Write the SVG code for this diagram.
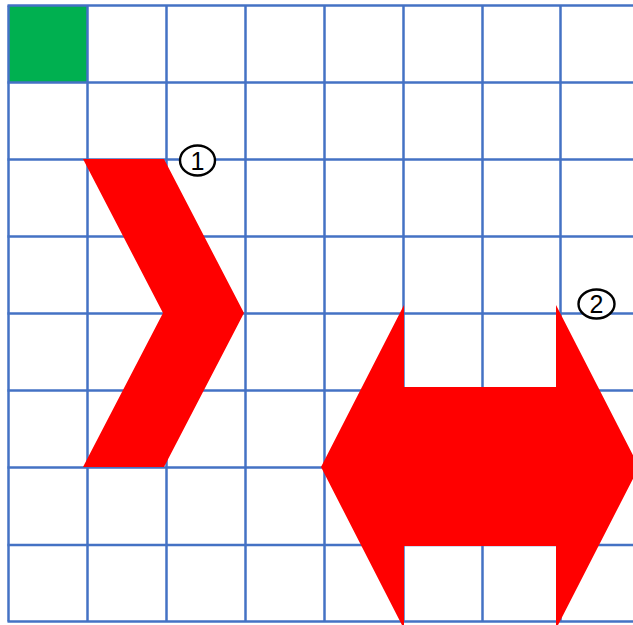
<svg xmlns="http://www.w3.org/2000/svg" width="633" height="625" viewBox="0 0 633 625">
<style>
.grid line{stroke:#4472C4;stroke-width:2.5}
.shape{fill:#FF0000}
.badge ellipse{fill:#fff;stroke:#000;stroke-width:2.4}
.badge text{font-family:"Liberation Sans",Arial,sans-serif;font-size:25px;fill:#000;text-anchor:middle}
</style>
<rect width="633" height="625" fill="#fff"/>
<g id="green-cell"><rect x="8.5" y="5.5" width="79" height="77" fill="#00B050"/></g>
<g id="grid" class="grid">
<line x1="8.5" y1="5.5" x2="8.5" y2="621.5"/>
<line x1="87.5" y1="5.5" x2="87.5" y2="621.5"/>
<line x1="166.5" y1="5.5" x2="166.5" y2="621.5"/>
<line x1="245.5" y1="5.5" x2="245.5" y2="621.5"/>
<line x1="324.5" y1="5.5" x2="324.5" y2="621.5"/>
<line x1="403.5" y1="5.5" x2="403.5" y2="621.5"/>
<line x1="482.5" y1="5.5" x2="482.5" y2="621.5"/>
<line x1="560.5" y1="5.5" x2="560.5" y2="621.5"/>
<line x1="7.5" y1="5.5" x2="640" y2="5.5"/>
<line x1="7.5" y1="82.5" x2="640" y2="82.5"/>
<line x1="7.5" y1="159.5" x2="640" y2="159.5"/>
<line x1="7.5" y1="236.5" x2="640" y2="236.5"/>
<line x1="7.5" y1="313.5" x2="640" y2="313.5"/>
<line x1="7.5" y1="390.5" x2="640" y2="390.5"/>
<line x1="7.5" y1="467.5" x2="640" y2="467.5"/>
<line x1="7.5" y1="545" x2="640" y2="545"/>
<line x1="7.5" y1="621.5" x2="640" y2="621.5"/>
</g>
<g id="chevron" class="shape"><polygon points="83,159 164,159 244,313 164,467 83,467 163,313"/></g>
<g id="double-arrow" class="shape"><polygon points="321,467 404,305 404,387 556,387 556,305 639,467 556,629 556,546 404,546 404,629"/></g>
<g id="label-1" class="badge"><ellipse cx="197.5" cy="160.5" rx="17.5" ry="15"/><text x="197.5" y="169.5">1</text></g>
<g id="label-2" class="badge"><ellipse cx="596.5" cy="304" rx="18" ry="14.5"/><text x="596.5" y="313">2</text></g>
</svg>
